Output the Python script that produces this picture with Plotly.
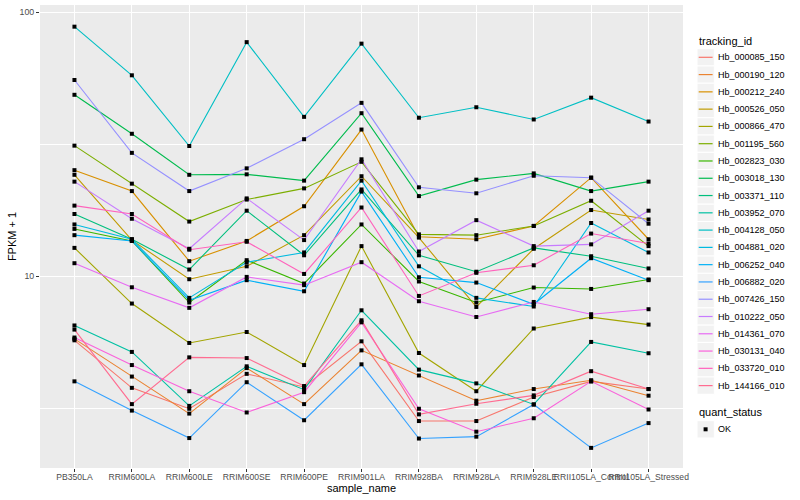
import plotly.graph_objects as go

# ---------------- data ----------------
samples = ["PB350LA", "RRIM600LA", "RRIM600LE", "RRIM600SE", "RRIM600PE",
           "RRIM901LA", "RRIM928BA", "RRIM928LA", "RRIM928LE",
           "RRII105LA_Control", "RRII105LA_Stressed"]

tracking_ids = ["Hb_000085_150", "Hb_000190_120", "Hb_000212_240", "Hb_000526_050",
                "Hb_000866_470", "Hb_001195_560", "Hb_002823_030", "Hb_003018_130",
                "Hb_003371_110", "Hb_003952_070", "Hb_004128_050", "Hb_004881_020",
                "Hb_006252_040", "Hb_006882_020", "Hb_007426_150", "Hb_010222_050",
                "Hb_014361_070", "Hb_030131_040", "Hb_033720_010", "Hb_144166_010"]

# FPKM + 1, one list per tracking_id, in sample order
hb_000085_150 = [5.72, 3.78, 3.15, 4.27, 3.81, 5.67, 2.83, 2.83, 3.49, 4.00, 3.74]
hb_000190_120 = [5.79, 4.17, 3.02, 4.49, 3.28, 5.24, 4.21, 3.38, 3.74, 4.04, 3.53]
hb_000212_240 = [25.2, 21.0, 11.4, 13.6, 18.4, 35.9, 14.1, 13.8, 15.5, 23.6, 13.8]
hb_000526_050 = [24.2, 13.7, 9.74, 10.9, 14.3, 23.9, 14.0, 7.65, 12.7, 17.8, 16.4]
hb_000866_470 = [12.8, 7.88, 5.59, 6.15, 4.61, 13.0, 5.12, 3.67, 6.34, 7.00, 6.56]
hb_001195_560 = [31.2, 22.4, 16.1, 19.5, 21.5, 27.1, 14.4, 14.3, 15.5, 19.3, 13.0]
hb_002823_030 = [15.1, 13.6, 7.95, 11.5, 9.38, 15.7, 9.55, 7.95, 9.06, 8.95, 9.72]
hb_003018_130 = [48.6, 34.6, 24.2, 24.3, 23.0, 41.4, 20.1, 23.2, 24.5, 21.0, 22.8]
hb_003371_110 = [17.2, 13.8, 10.6, 17.7, 12.0, 21.3, 12.0, 10.4, 12.8, 11.9, 10.7]
hb_003952_070 = [6.51, 5.17, 3.23, 4.56, 3.72, 7.43, 4.43, 3.93, 3.27, 5.64, 5.11]
hb_004128_050 = [88.0, 57.6, 31.1, 76.9, 40.1, 75.9, 39.8, 43.6, 39.2, 47.4, 38.5]
hb_004881_020 = [15.7, 13.8, 8.28, 11.3, 12.3, 23.0, 10.9, 8.28, 7.68, 15.9, 12.3]
hb_006252_040 = [14.3, 13.6, 8.11, 9.66, 8.77, 20.9, 9.91, 9.46, 7.83, 11.7, 9.66]
hb_006882_020 = [4.00, 3.10, 2.44, 3.97, 2.85, 4.64, 2.43, 2.47, 3.27, 2.24, 2.78]
hb_007426_150 = [55.3, 29.3, 21.0, 25.6, 33.0, 45.3, 21.7, 20.6, 24.0, 23.6, 15.8]
hb_010222_050 = [22.8, 16.5, 12.7, 19.7, 13.7, 27.7, 12.4, 16.3, 13.0, 13.2, 17.7]
hb_014361_070 = [11.2, 9.08, 7.59, 9.94, 9.25, 11.3, 8.04, 7.01, 7.99, 7.18, 7.50]
hb_030131_040 = [5.86, 4.61, 3.67, 3.05, 3.64, 6.69, 3.15, 2.58, 2.90, 4.00, 3.13]
hb_033720_010 = [18.5, 17.2, 12.6, 13.5, 10.2, 18.2, 8.42, 10.3, 11.0, 14.5, 13.3]
hb_144166_010 = [6.28, 3.28, 4.93, 4.90, 3.84, 6.81, 3.00, 3.29, 3.54, 4.37, 3.74]

series_values = [hb_000085_150, hb_000190_120, hb_000212_240, hb_000526_050,
                 hb_000866_470, hb_001195_560, hb_002823_030, hb_003018_130,
                 hb_003371_110, hb_003952_070, hb_004128_050, hb_004881_020,
                 hb_006252_040, hb_006882_020, hb_007426_150, hb_010222_050,
                 hb_014361_070, hb_030131_040, hb_033720_010, hb_144166_010]

quant_status = ["OK"]
y_ticks = [10, 100]
y_minor = [10 ** 0.5, 10 ** 1.5]

# ---------------- styles ----------------
colors = ["#F8766D", "#EA8331", "#D89000", "#C09B00", "#A3A500", "#7CAE00",
          "#39B600", "#00BB4E", "#00BF7D", "#00C1A3", "#00BFC4", "#00BAE0",
          "#00B0F6", "#35A2FF", "#9590FF", "#C77CFF", "#E76BF3", "#FA62DB",
          "#FF62BC", "#FF6C91"]

FONT = "Liberation Sans, Arial, Helvetica, sans-serif"
W, H = 800, 500
ML, MR, MT, MB = 40, 117, 5, 32
PW, PH = W - ML - MR, H - MT - MB


def px(x):
    return (x - ML) / PW


def py(y):
    return (H - MB - y) / PH


fig = go.Figure()

# lines first (ggplot geom_line), points on top (geom_point)
for tid, vals, col in zip(tracking_ids, series_values, colors):
    fig.add_trace(go.Scatter(x=samples, y=vals, mode="lines", name=tid,
                             line=dict(color=col, width=1.1),
                             showlegend=False, hoverinfo="x+y+name"))
for tid, vals in zip(tracking_ids, series_values):
    fig.add_trace(go.Scatter(x=samples, y=vals, mode="markers", name=tid,
                             marker=dict(symbol="square", size=4, color="black",
                                         line=dict(width=0)),
                             showlegend=False, hoverinfo="skip"))

# ---------------- manual ggplot-like legend ----------------
shapes = []
annotations = []
KX0, KX1 = 697.0, 714.3
KEY = 17.28
annotations.append(dict(x=px(696.5), y=py(40.7), xref="paper", yref="paper",
                        text="tracking_id", showarrow=False, xanchor="left",
                        yanchor="middle", font=dict(family=FONT, size=11, color="black")))
for i, (tid, col) in enumerate(zip(tracking_ids, colors)):
    yc = 57.3 + KEY * i
    shapes.append(dict(type="rect", xref="paper", yref="paper",
                       x0=px(KX0), x1=px(KX1), y0=py(yc - KEY / 2), y1=py(yc + KEY / 2),
                       fillcolor="#F2F2F2", line=dict(color="white", width=1), layer="above"))
    shapes.append(dict(type="line", xref="paper", yref="paper",
                       x0=px(KX0 + 1.7), x1=px(KX1 - 1.7), y0=py(yc), y1=py(yc),
                       line=dict(color=col, width=1.2), layer="above"))
    annotations.append(dict(x=px(716.3), y=py(yc), xref="paper", yref="paper",
                            text=tid, showarrow=False, xanchor="left", yanchor="middle",
                            font=dict(family=FONT, size=9, color="black")))

annotations.append(dict(x=px(696.5), y=py(412.3), xref="paper", yref="paper",
                        text="quant_status", showarrow=False, xanchor="left",
                        yanchor="middle", font=dict(family=FONT, size=11, color="black")))
yc = 429.3
shapes.append(dict(type="rect", xref="paper", yref="paper",
                   x0=px(KX0), x1=px(KX1), y0=py(yc - KEY / 2), y1=py(yc + KEY / 2),
                   fillcolor="#F2F2F2", line=dict(color="white", width=1), layer="above"))
shapes.append(dict(type="rect", xref="paper", yref="paper",
                   x0=px(703.6), x1=px(707.6), y0=py(yc - 2), y1=py(yc + 2),
                   fillcolor="black", line=dict(width=0), layer="above"))
annotations.append(dict(x=px(716.3), y=py(yc), xref="paper", yref="paper",
                        text=quant_status[0], showarrow=False, xanchor="left",
                        yanchor="middle", font=dict(family=FONT, size=9, color="black")))

fig.update_layout(
    width=W, height=H,
    margin=dict(l=ML, r=MR, t=MT, b=MB, pad=0),
    paper_bgcolor="white", plot_bgcolor="#EBEBEB",
    font=dict(family=FONT, size=9, color="#4D4D4D"),
    showlegend=False,
    shapes=shapes, annotations=annotations,
)
fig.update_xaxes(
    type="category", categoryorder="array", categoryarray=samples,
    range=[-0.6, len(samples) - 0.4],
    showgrid=True, gridcolor="white", gridwidth=1.2,
    zeroline=False, showline=False,
    ticks="outside", ticklen=3, tickwidth=1, tickcolor="#333333",
    ticklabelstandoff=-2,
    tickangle=0, tickfont=dict(family=FONT, size=8.6, color="#4D4D4D"),
    title=dict(text="sample_name", font=dict(family=FONT, size=11, color="black"), standoff=0),
    automargin=False,
)
fig.update_yaxes(
    type="log", range=[0.2741, 2.0265],
    tickmode="array", tickvals=y_ticks, ticktext=[str(v) for v in y_ticks],
    showgrid=True, gridcolor="white", gridwidth=1.2,
    minor=dict(tickmode="array", tickvals=y_minor, showgrid=True,
               gridcolor="white", gridwidth=0.6, ticks=""),
    zeroline=False, showline=False,
    ticks="outside", ticklen=3, tickwidth=1, tickcolor="#333333",
    tickfont=dict(family=FONT, size=8.8, color="#4D4D4D"),
    title=dict(text="FPKM + 1", font=dict(family=FONT, size=11, color="black"), standoff=0),
    automargin=False,
)

# remove the browser's default 8px page margin so the 800x500 figure fills the window
fig.write_html("out.html", config={"displayModeBar": False},
               post_script="document.body.style.margin='0px';")
